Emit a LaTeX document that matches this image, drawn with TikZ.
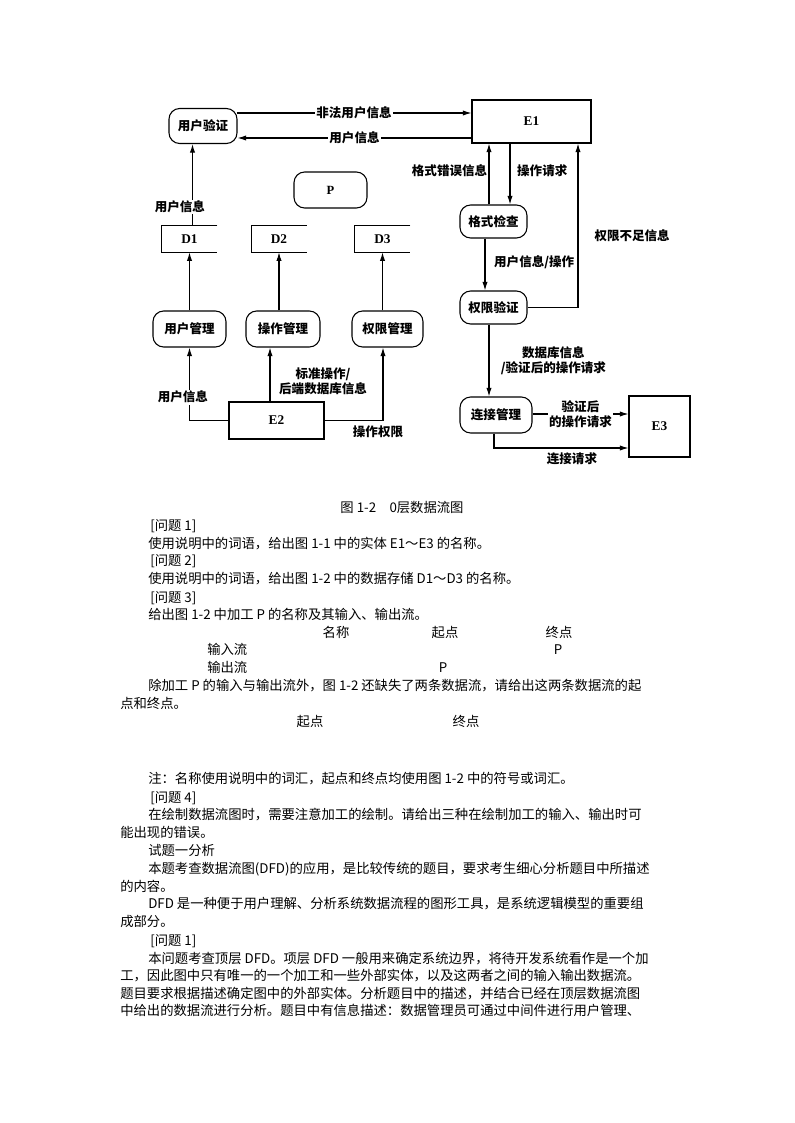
\documentclass[tikz,border=0pt]{standalone}
\usepackage{fontspec}
\setmainfont{Liberation Serif}
\newfontfamily\cjk{Noto Sans CJK SC}
\usetikzlibrary{arrows.meta, positioning, calc}
\tikzset{
    >=Latex,
    dfd_proc/.style={
        rectangle,
        rounded corners=8pt,
        draw,
        line width=0.8pt,
        minimum width=54pt,
        minimum height=27pt,
        inner sep=0pt,
        font=\fontsize{9.4pt}{11pt}\cjk\bfseries
    },
    dfd_entity/.style={
        rectangle,
        draw,
        line width=0.8pt,
        inner sep=0pt,
        font=\fontsize{10pt}{12pt}\rmfamily\bfseries
    },
    dfd_store/.style={
        rectangle,
        minimum width=41.25pt,
        minimum height=19.5pt,
        inner sep=0pt,
        font=\fontsize{10pt}{12pt}\rmfamily\bfseries
    },
    dfd_line/.style={
        line width=0.8pt
    },
    dfd_flow/.style={
        -{Latex[length=6.5pt, width=4pt]},
        line width=0.8pt
    },
    dfd_label/.style={
        fill=white,
        inner sep=1pt,
        font=\fontsize{9.4pt}{11.5pt}\cjk\bfseries
    },
    body_text/.style={
        anchor=base west,
        inner sep=0pt,
        font=\fontsize{10pt}{12pt}\cjk
    },
    body_col/.style={
        anchor=base,
        inner sep=0pt,
        font=\fontsize{10pt}{12pt}\cjk
    }
}
\newcommand{\dfdstore}[3]{
    \node[dfd_store] (#1) at (#2) {#3};
    \draw[dfd_line] (#1.north east) -- (#1.north west) -- (#1.south west) -- (#1.south east);
}

\begin{document}
\begin{tikzpicture}[x=0.75pt, y=-0.75pt]
\useasboundingbox (0,0) rectangle (794,1123);

% --- Processes ---
\node[dfd_proc, minimum width=51pt, minimum height=26.25pt] (yhyz) at (203,126) {用户验证};
\node[dfd_proc, minimum width=54.75pt] (P) at (330.5,190) {\rmfamily\bfseries P};
\node[dfd_proc, minimum width=54.75pt] (yhgl) at (189.5,329) {用户管理};
\node[dfd_proc, minimum width=55.5pt] (czgl) at (283,329) {操作管理};
\node[dfd_proc, minimum width=53.25pt] (qxgl) at (387.5,329) {权限管理};
\node[dfd_proc, minimum width=50.25pt, minimum height=24.75pt] (gsjc) at (493.5,221.5) {格式检查};
\node[dfd_proc, minimum width=50.25pt, minimum height=24.75pt] (qxyz) at (493.5,307.5) {权限验证};
\node[dfd_proc] (ljgl) at (496,415) {连接管理};

% --- External entities ---
\node[dfd_entity, minimum width=89.25pt, minimum height=32.25pt] (E1) at (531.5,121.5) {E1};
\node[dfd_entity, minimum width=71.25pt, minimum height=27.75pt] (E2) at (276.5,420.5) {E2};
\node[dfd_entity, minimum width=45.75pt, minimum height=45.75pt] (E3) at (659.5,426.5) {E3};

% --- Data stores ---
\dfdstore{D1}{189.5,239}{D1}
\dfdstore{D2}{279,239}{D2}
\dfdstore{D3}{382.5,239}{D3}

% --- Flows, left part ---
\draw[dfd_flow] ($(yhyz.east)+(-1,-13)$) -- ($(E1.west)+(0,-8.5)$) node[dfd_label, midway] {非法用户信息};
\draw[dfd_flow] ($(E1.west)+(0,16.5)$) -- ($(yhyz.east)+(0,12)$) node[dfd_label, midway] {用户信息};
\coordinate (d1up) at ($(D1.north)+(3,0)$);
\draw[dfd_flow] (d1up) -- (d1up |- yhyz.south) node[dfd_label, pos=0.23, xshift=-9.5pt] {用户信息};
\draw[dfd_flow] (yhgl.north) -- (yhgl.north |- D1.south);
\draw[dfd_flow] (D2.south |- czgl.north) -- (D2.south);
\draw[dfd_flow] (D3.south |- qxgl.north) -- (D3.south);
\draw[dfd_flow] (E2.west) -| (yhgl.south) node[dfd_label, pos=0.66, xshift=-5pt] {用户信息};
\coordinate (e2up) at ($(E2.north)+(-6.5,0)$);
\draw[dfd_flow] (e2up) -- (e2up |- czgl.south) node[dfd_label, pos=0.38, anchor=west, align=center, xshift=5.5pt] {标准操作/\\后端数据库信息};
\draw[dfd_flow] (E2.east) -| ($(qxgl.south)+(-4.5,0)$) node[dfd_label, pos=0.5, anchor=north, xshift=-3.75pt, yshift=-2.5pt] {操作权限};

% --- Flows, right part ---
\coordinate (gsup) at ($(gsjc.north)+(-4.5,0)$);
\draw[dfd_flow] (gsup) -- (gsup |- E1.south) node[dfd_label, pos=0.55, anchor=east] {格式错误信息};
\coordinate (gsdn) at ($(gsjc.north)+(16.5,0)$);
\draw[dfd_flow] (gsdn |- E1.south) -- (gsdn) node[dfd_label, pos=0.45, anchor=west, xshift=4pt] {操作请求};
\coordinate (gsout) at ($(gsjc.south)+(-8.5,0)$);
\draw[dfd_flow] (gsout) -- (gsout |- qxyz.north) node[dfd_label, pos=0.45, anchor=west, xshift=5.5pt] {用户信息/操作};
\draw[dfd_flow] (qxyz.east) -| ($(E1.south)+(46.5,0)$) node[dfd_label, pos=0.72, anchor=west, xshift=11pt] {权限不足信息};
\coordinate (qxdn) at ($(qxyz.south)+(-4.5,0)$);
\draw[dfd_flow] (qxdn) -- (qxdn |- ljgl.north) node[dfd_label, midway, anchor=west, align=center, xshift=7.5pt] {数据库信息\\/验证后的操作请求};
\draw[dfd_flow] ($(ljgl.east)+(0,-1)$) -- ($(E3.west)+(0,-12.5)$) node[dfd_label, midway, align=center] {验证后\\的操作请求};
\coordinate (ljdn) at ($(ljgl.south)+(-2,0)$);
\draw[dfd_flow] (ljdn) |- ($(E3.west)+(0,21.5)$) node[dfd_label, pos=0.79, below=2pt] {连接请求};

% --- Caption ---
\node[font=\fontsize{10pt}{12pt}\cjk] (caption) at (402,507) {图 1-2　0层数据流图};

% --- Questions ---
\node[body_text] (t01) at (150,530) {[问题 1]};
\node[body_text] (t02) at (148,548) {使用说明中的词语，给出图 1-1 中的实体 E1～E3 的名称。};
\node[body_text] (t03) at (150,565) {[问题 2]};
\node[body_text] (t04) at (148,583) {使用说明中的词语，给出图 1-2 中的数据存储 D1～D3 的名称。};
\node[body_text] (t05) at (150,602) {[问题 3]};
\node[body_text] (t06) at (148,619) {给出图 1-2 中加工 P 的名称及其输入、输出流。};
\node[body_col] (h1) at (336,637) {名称};
\node[body_col] (h2) at (445,637) {起点};
\node[body_col] (h3) at (559,637) {终点};
\node[body_text] (t07) at (207,654) {输入流};
\node[body_col] (p1) at (558,654) {P};
\node[body_text] (t08) at (207,672) {输出流};
\node[body_col] (p2) at (443,672) {P};
\node[body_text] (t09) at (148,690) {除加工 P 的输入与输出流外，图 1-2 还缺失了两条数据流，请给出这两条数据流的起};
\node[body_text] (t10) at (120,708) {点和终点。};
\node[body_col] (h4) at (310,726) {起点};
\node[body_col] (h5) at (466,726) {终点};
\node[body_text] (t11) at (148,783) {注：名称使用说明中的词汇，起点和终点均使用图 1-2 中的符号或词汇。};
\node[body_text] (t12) at (150,802) {[问题 4]};
\node[body_text] (t13) at (148,819) {在绘制数据流图时，需要注意加工的绘制。请给出三种在绘制加工的输入、输出时可};
\node[body_text] (t14) at (120,837) {能出现的错误。};

% --- Analysis ---
\node[body_text] (t15) at (148,855) {试题一分析};
\node[body_text] (t16) at (148,873) {本题考查数据流图(DFD)的应用，是比较传统的题目，要求考生细心分析题目中所描述};
\node[body_text] (t17) at (120,891) {的内容。};
\node[body_text] (t18) at (148,908) {DFD 是一种便于用户理解、分析系统数据流程的图形工具，是系统逻辑模型的重要组};
\node[body_text] (t19) at (120,926) {成部分。};
\node[body_text] (t20) at (150,945) {[问题 1]};
\node[body_text] (t21) at (148,963) {本问题考查顶层 DFD。项层 DFD 一般用来确定系统边界，将待开发系统看作是一个加};
\node[body_text] (t22) at (120,980) {工，因此图中只有唯一的一个加工和一些外部实体，以及这两者之间的输入输出数据流。};
\node[body_text] (t23) at (120,998) {题目要求根据描述确定图中的外部实体。分析题目中的描述，并结合已经在顶层数据流图};
\node[body_text] (t24) at (120,1015) {中给出的数据流进行分析。题目中有信息描述：数据管理员可通过中间件进行用户管理、};

\end{tikzpicture}
\end{document}
